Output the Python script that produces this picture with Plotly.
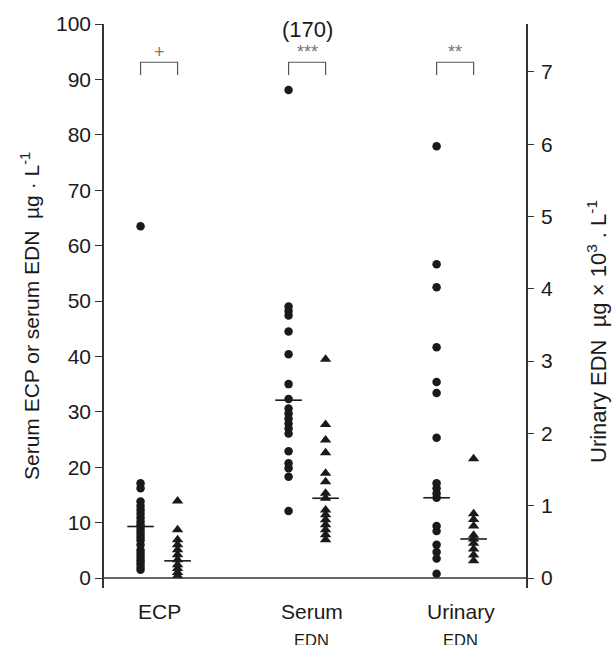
import plotly.graph_objects as go

# Group positions along the x axis (0 = ECP, 1 = Serum EDN, 2 = Urinary EDN)
groups = ["ECP", "Serum", "Urinary"]
group_sub = ["", "EDN", "EDN"]

# Serum ECP, µg·L-1 (circles = patients, triangles = controls)
ecp_circles = [63.5, 17.1, 16.2, 13.8, 13.0, 12.3, 11.6, 10.9, 10.2, 9.6, 9.2, 8.6,
               8.0, 7.4, 6.8, 6.0, 5.0, 4.4, 3.8, 3.2, 2.6, 2.0, 1.5]
ecp_triangles = [13.9, 8.7, 6.9, 6.0, 5.1, 4.2, 3.3, 2.4, 1.7, 1.0, 0.4]

# Serum EDN, µg·L-1
serum_circles = [88.1, 49.0, 48.2, 47.4, 44.5, 40.4, 35.0, 32.3, 30.6, 29.7, 28.8,
                 27.9, 27.0, 26.1, 22.9, 20.7, 19.8, 18.3, 12.1]
serum_triangles = [39.5, 27.7, 24.9, 22.6, 18.9, 17.4, 15.3, 14.4, 12.3, 11.4,
                   10.5, 9.6, 8.7, 7.8, 6.9]

# Urinary EDN, µg×10³·L-1 (right axis)
urine_circles = [5.97, 4.34, 4.02, 3.19, 2.71, 2.56, 1.94, 1.31, 1.24, 1.17, 1.11,
                 0.72, 0.65, 0.46, 0.36, 0.27, 0.06]
urine_triangles = [1.65, 0.89, 0.81, 0.72, 0.59, 0.54, 0.48, 0.40, 0.32, 0.24]

# Group medians: [circles, triangles]
medians = {"ECP": [9.3, 3.1], "Serum": [32.1, 14.4], "Urinary": [1.11, 0.54]}

# Significance marks above each pair
sig_marks = ["+", "***", "**"]
off_scale_note = "(170)"

left_ticks = list(range(0, 101, 10))
right_ticks = list(range(0, 8))

DX = 0.125          # half-gap between the two columns of a group
INK = "#1a1a1a"
FONT = "Liberation Sans, Arial, sans-serif"

# Plot area in pixels (used to place the rotated axis titles)
W, H = 612, 645
ML, MR, MT, MB = 104, 86, 24, 57
PW, PH = W - ML - MR, H - MT - MB


def paper_x(px):
    return (px - ML) / PW


def paper_y(py):
    return (H - MB - py) / PH


fig = go.Figure()

series = [
    (0, ecp_circles, ecp_triangles, "y"),
    (1, serum_circles, serum_triangles, "y"),
    (2, urine_circles, urine_triangles, "y2"),
]
for gi, circ, tri, yax in series:
    fig.add_trace(go.Scatter(
        x=[gi - DX] * len(circ), y=circ, yaxis=yax, mode="markers",
        marker=dict(symbol="circle", size=8.5, color=INK),
        showlegend=False, hoverinfo="y"))
    fig.add_trace(go.Scatter(
        x=[gi + DX] * len(tri), y=tri, yaxis=yax, mode="markers",
        marker=dict(symbol="triangle-up", size=10, color=INK),
        showlegend=False, hoverinfo="y"))
    med = medians[groups[gi]]
    fig.add_trace(go.Scatter(
        x=[gi - DX, gi + DX], y=med, yaxis=yax, mode="markers",
        marker=dict(symbol="line-ew", size=19, color=INK,
                    line=dict(width=1.6, color=INK)),
        showlegend=False, hoverinfo="y"))

# Baseline at zero between the two vertical axes
fig.add_shape(type="line", xref="paper", yref="y", x0=0, x1=1, y0=0, y1=0,
              line=dict(color="#333333", width=1.5))

# Significance brackets
for gi, mark in enumerate(sig_marks):
    fig.add_shape(type="path", xref="x", yref="y",
                  path=f"M {gi - DX},90.8 L {gi - DX},93.1 L {gi + DX},93.1 L {gi + DX},90.8",
                  line=dict(color="#555555", width=1.2))
    fig.add_annotation(x=gi, y=93.1, xref="x", yref="y", text=mark,
                       showarrow=False, yanchor="bottom", yshift=-2,
                       font=dict(family=FONT, size=18, color="#777777"))

fig.add_annotation(x=1, y=98, xref="x", yref="y", text=off_scale_note,
                   showarrow=False, yanchor="bottom", yshift=-9,
                   font=dict(family=FONT, size=22, color=INK))

# Category labels under the axis
label_shift = [0, 5, 6]
for gi, (name, sub) in enumerate(zip(groups, group_sub)):
    fig.add_annotation(x=gi, y=0, xref="x", yref="y", text=name,
                       showarrow=False, yanchor="middle", yshift=-33,
                       xshift=label_shift[gi],
                       font=dict(family=FONT, size=21, color=INK))
    if sub:
        fig.add_annotation(x=gi, y=0, xref="x", yref="y", text=sub,
                           showarrow=False, yanchor="middle", yshift=-62,
                           xshift=label_shift[gi] - 1,
                           font=dict(family=FONT, size=16.5, color=INK))

# Rotated axis titles
fig.add_annotation(x=paper_x(30), y=paper_y(316), xref="paper", yref="paper",
                   text="Serum ECP or serum EDN  µg · L<sup>-1</sup>",
                   textangle=-90, showarrow=False, xanchor="center", yanchor="middle",
                   font=dict(family=FONT, size=21, color=INK))
fig.add_annotation(x=paper_x(597), y=paper_y(332), xref="paper", yref="paper",
                   text="Urinary EDN  µg × 10<sup>3</sup> . L<sup>-1</sup>",
                   textangle=-90, showarrow=False, xanchor="center", yanchor="middle",
                   font=dict(family=FONT, size=22, color=INK))

fig.update_layout(
    width=W, height=H,
    margin=dict(l=ML, r=MR, t=MT, b=MB),
    paper_bgcolor="white", plot_bgcolor="white",
    font=dict(family=FONT, color=INK),
    xaxis=dict(range=[-0.372, 2.479], showgrid=False, zeroline=False,
               showline=False, showticklabels=False, ticks=""),
    yaxis=dict(range=[-1.8, 100], tickvals=left_ticks, showgrid=False,
               zeroline=False, showline=True, linecolor="#333333", linewidth=1.5,
               ticks="outside", ticklen=7, tickwidth=1.3, tickcolor="#333333",
               tickfont=dict(family=FONT, size=21, color=INK)),
    yaxis2=dict(range=[-0.138, 7.662], tickvals=right_ticks, overlaying="y",
                side="right", showgrid=False, zeroline=False, showline=True,
                linecolor="#333333", linewidth=1.5,
                ticks="outside", ticklen=6, tickwidth=1.3, tickcolor="#333333",
                ticklabelstandoff=3,
                tickfont=dict(family=FONT, size=21, color=INK)),
)

fig.write_html("out.html")
